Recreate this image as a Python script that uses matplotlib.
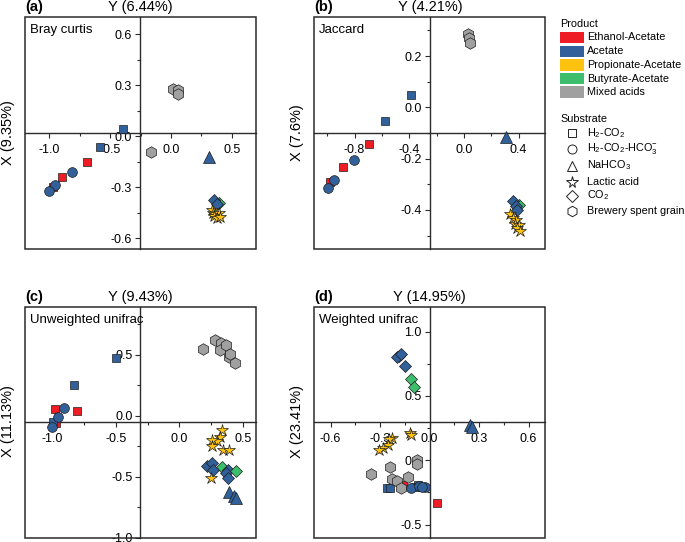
import matplotlib
matplotlib.use('Agg')
import matplotlib.pyplot as plt
from matplotlib.patches import Rectangle
from matplotlib.ticker import MultipleLocator, FuncFormatter

plt.rcParams['font.family'] = ['Liberation Sans', 'DejaVu Sans']
plt.rcParams['axes.unicode_minus'] = False
plt.rcParams['mathtext.fontset'] = 'custom'
plt.rcParams['mathtext.rm'] = 'Liberation Sans'
plt.rcParams['mathtext.it'] = 'Liberation Sans:italic'
plt.rcParams['mathtext.default'] = 'regular'

# ---------------- categories ----------------
product_keys = ['EA', 'AC', 'PA', 'BA', 'MA']
product_names = ['Ethanol-Acetate', 'Acetate', 'Propionate-Acetate', 'Butyrate-Acetate', 'Mixed acids']
substrate_keys = ['H2CO2', 'H2CO2HCO3', 'NaHCO3', 'LAC', 'CO2', 'BSG']
substrate_names = [r'H$_2$-CO$_2$', r'H$_2$-CO$_2$-HCO$_3^{-}$', r'NaHCO$_3$', 'Lactic acid',
                   r'CO$_2$', 'Brewery spent grain']

# ---------------- (a) Bray curtis ----------------
a_x = [-0.69, -0.89, -0.97, -0.39, -0.58, -0.81, -0.95, -1.00,
       0.02, 0.055, 0.06, -0.16, 0.31, 0.39, 0.355, 0.375,
       0.333, 0.345, 0.36, 0.39, 0.35, 0.375, 0.40]
a_y = [-0.149, -0.239, -0.30, 0.043, -0.061, -0.212, -0.288, -0.322,
       0.28, 0.27, 0.25, -0.09, -0.12, -0.39, -0.375, -0.40,
       -0.434, -0.45, -0.46, -0.45, -0.47, -0.48, -0.476]
a_prod = ['EA', 'EA', 'EA', 'AC', 'AC', 'AC', 'AC', 'AC',
          'MA', 'MA', 'MA', 'MA', 'AC', 'BA', 'AC', 'AC',
          'PA', 'PA', 'PA', 'PA', 'PA', 'PA', 'PA']
a_subs = ['H2CO2', 'H2CO2', 'H2CO2', 'H2CO2', 'H2CO2', 'H2CO2HCO3', 'H2CO2HCO3', 'H2CO2HCO3',
          'BSG', 'BSG', 'BSG', 'BSG', 'NaHCO3', 'CO2', 'CO2', 'CO2',
          'LAC', 'LAC', 'LAC', 'LAC', 'LAC', 'LAC', 'LAC']

# ---------------- (b) Jaccard ----------------
b_x = [-0.693, -0.883, -0.98, -0.39, -0.578, -0.805, -0.949, -0.997,
       0.027, 0.04, 0.044, 0.307, 0.405, 0.36, 0.38, 0.385,
       0.34, 0.36, 0.38, 0.37, 0.40, 0.39, 0.41]
b_y = [-0.142, -0.234, -0.29, 0.049, -0.055, -0.205, -0.283, -0.316,
       0.284, 0.27, 0.252, -0.115, -0.38, -0.365, -0.385, -0.40,
       -0.415, -0.43, -0.44, -0.455, -0.46, -0.472, -0.482]
b_prod = ['EA', 'EA', 'EA', 'AC', 'AC', 'AC', 'AC', 'AC',
          'MA', 'MA', 'MA', 'AC', 'BA', 'AC', 'AC', 'AC',
          'PA', 'PA', 'PA', 'PA', 'PA', 'PA', 'PA']
b_subs = ['H2CO2', 'H2CO2', 'H2CO2', 'H2CO2', 'H2CO2', 'H2CO2HCO3', 'H2CO2HCO3', 'H2CO2HCO3',
          'BSG', 'BSG', 'BSG', 'NaHCO3', 'CO2', 'CO2', 'CO2', 'CO2',
          'LAC', 'LAC', 'LAC', 'LAC', 'LAC', 'LAC', 'LAC']

# ---------------- (c) Unweighted unifrac ----------------
c_x = [-0.97, -1.00, -0.979, -0.81, -0.502, -0.834, -0.91, -0.955, -1.005,
       0.19, 0.28, 0.327, 0.32, 0.369, 0.392, 0.40, 0.44,
       0.216, 0.256, 0.335, 0.268, 0.387, 0.37, 0.445, 0.387,
       0.395, 0.43, 0.447,
       0.335, 0.32, 0.30, 0.26, 0.256, 0.347, 0.395, 0.248]
c_y = [-0.06, -0.05, 0.057, 0.043, 0.473, 0.254, 0.068, -0.011, -0.093,
       0.547, 0.623, 0.596, 0.54, 0.582, 0.481, 0.51, 0.432,
       -0.415, -0.388, -0.42, -0.443, -0.443, -0.47, -0.454, -0.51,
       -0.626, -0.66, -0.675,
       -0.115, -0.17, -0.21, -0.197, -0.246, -0.279, -0.279, -0.511]
c_prod = ['EA', 'AC', 'EA', 'EA', 'AC', 'AC', 'AC', 'AC', 'AC',
          'MA', 'MA', 'MA', 'MA', 'MA', 'MA', 'MA', 'MA',
          'AC', 'AC', 'BA', 'AC', 'AC', 'AC', 'BA', 'AC',
          'AC', 'AC', 'AC',
          'PA', 'PA', 'PA', 'PA', 'PA', 'PA', 'PA', 'PA']
c_subs = ['H2CO2', 'H2CO2', 'H2CO2', 'H2CO2', 'H2CO2', 'H2CO2', 'H2CO2HCO3', 'H2CO2HCO3', 'H2CO2HCO3',
          'BSG', 'BSG', 'BSG', 'BSG', 'BSG', 'BSG', 'BSG', 'BSG',
          'CO2', 'CO2', 'CO2', 'CO2', 'CO2', 'CO2', 'CO2', 'CO2',
          'NaHCO3', 'NaHCO3', 'NaHCO3',
          'LAC', 'LAC', 'LAC', 'LAC', 'LAC', 'LAC', 'LAC', 'LAC']

# ---------------- (d) Weighted unifrac ----------------
d_x = [-0.16, 0.045, -0.26, -0.24, -0.088, -0.07,
       -0.074, -0.078, -0.24, -0.355, -0.128, -0.23, -0.20, -0.175,
       -0.112, -0.062, -0.027, -0.045,
       -0.185, -0.2, -0.175, -0.148, -0.112, -0.094,
       0.245, 0.26,
       -0.118, -0.11, -0.23, -0.244, -0.25, -0.28, -0.304]
d_y = [-0.19, -0.334, -0.218, -0.218, -0.205, -0.19,
       0.002, -0.03, -0.054, -0.109, -0.132, -0.145, -0.16, -0.218,
       -0.218, -0.2, -0.205, -0.205,
       0.81, 0.805, 0.826, 0.733, 0.629, 0.567,
       0.274, 0.261,
       0.21, 0.195, 0.17, 0.163, 0.119, 0.093, 0.08]
d_prod = ['EA', 'EA', 'AC', 'AC', 'AC', 'AC',
          'MA', 'MA', 'MA', 'MA', 'MA', 'MA', 'MA', 'MA',
          'AC', 'AC', 'AC', 'AC',
          'AC', 'AC', 'AC', 'AC', 'BA', 'BA',
          'AC', 'AC',
          'PA', 'PA', 'PA', 'PA', 'PA', 'PA', 'PA']
d_subs = ['H2CO2', 'H2CO2', 'H2CO2', 'H2CO2', 'H2CO2', 'H2CO2',
          'BSG', 'BSG', 'BSG', 'BSG', 'BSG', 'BSG', 'BSG', 'BSG',
          'H2CO2HCO3', 'H2CO2HCO3', 'H2CO2HCO3', 'H2CO2HCO3',
          'CO2', 'CO2', 'CO2', 'CO2', 'CO2', 'CO2',
          'NaHCO3', 'NaHCO3',
          'LAC', 'LAC', 'LAC', 'LAC', 'LAC', 'LAC', 'LAC']

panel_letters = ['(a)', '(b)', '(c)', '(d)']
panel_names = ['Bray curtis', 'Jaccard', 'Unweighted unifrac', 'Weighted unifrac']
x_titles = ['Y (6.44%)', 'Y (4.21%)', 'Y (9.43%)', 'Y (14.95%)']
y_titles = ['X (9.35%)', 'X (7.6%)', 'X (11.13%)', 'X (23.41%)']

# ---------------- styles ----------------
product_colors = {'EA': '#EE1C24', 'AC': '#31609A', 'PA': '#FFC20E', 'BA': '#3CBE6C', 'MA': '#A0A0A0'}
substrate_markers = {'H2CO2': 's', 'H2CO2HCO3': 'o', 'NaHCO3': '^', 'LAC': '*', 'CO2': 'D', 'BSG': 'h'}
marker_sizes = {'s': 6.0, 'o': 7.0, '^': 8.5, '*': 9.0, 'D': 6.5, 'h': 8.3}
EDGE = '#1e1e1e'
AXC = '#2b2b2b'

W, H = 685, 542
fig = plt.figure(figsize=(W / 100, H / 100), dpi=100)

# pixel boxes (left, top, right, bottom) and axis setup
layout = [
    dict(box=(25, 17, 256, 249), xlim=(-1.197, 0.697), ylim=(-0.663, 0.702), vx=-0.254, hy=0.02, xm=0.5, ym=0.3, lab=8.5),
    dict(box=(314, 17, 545, 249), xlim=(-1.097, 0.593), ylim=(-0.552, 0.352), vx=-0.249, hy=-0.10, xm=0.4, ym=0.2, lab=296.5),
    dict(box=(25, 307, 256, 538), xlim=(-1.218, 0.605), ylim=(-1.003, 0.893), vx=-0.308, hy=-0.047, xm=0.5, ym=0.5, lab=8.5),
    dict(box=(314, 307, 545, 538), xlim=(-0.70, 0.70), ylim=(-0.604, 1.191), vx=0.0, hy=0.30, xm=0.3, ym=0.5, lab=296.5),
]
data = [(a_x, a_y, a_prod, a_subs), (b_x, b_y, b_prod, b_subs),
        (c_x, c_y, c_prod, c_subs), (d_x, d_y, d_prod, d_subs)]

fmt = FuncFormatter(lambda v, p: f'{round(v, 2) + 0.0:.1f}')

for i, (L, (xs, ys, ps, ss)) in enumerate(zip(layout, data)):
    l, t, r, b = L['box']
    ax = fig.add_axes([l / W, 1 - b / H, (r - l) / W, (b - t) / H])
    ax.set_xlim(*L['xlim'])
    ax.set_ylim(*L['ylim'])
    ax.spines['top'].set_visible(False)
    ax.spines['right'].set_visible(False)
    ax.spines['left'].set_position(('data', L['vx']))
    ax.spines['bottom'].set_position(('data', L['hy']))
    for s in ('left', 'bottom'):
        ax.spines[s].set_color(AXC)
        ax.spines[s].set_linewidth(1.0)
    ax.add_patch(Rectangle((0, 0), 1, 1, transform=ax.transAxes, fill=False,
                           ec=AXC, lw=1.1, clip_on=False, zorder=2.6))
    ax.xaxis.set_major_locator(MultipleLocator(L['xm']))
    ax.xaxis.set_minor_locator(MultipleLocator(L['xm'] / 2))
    ax.yaxis.set_major_locator(MultipleLocator(L['ym']))
    ax.yaxis.set_minor_locator(MultipleLocator(L['ym'] / 2))
    ax.xaxis.set_major_formatter(fmt)
    ax.yaxis.set_major_formatter(fmt)
    ax.tick_params(which='major', direction='out', length=3.6, width=0.8, color=AXC, labelsize=9)
    ax.tick_params(which='minor', direction='out', length=2.0, width=0.8, color=AXC)
    ax.tick_params(axis='x', which='major', pad=4.5)
    ax.tick_params(axis='y', which='major', pad=2.0)
    ax.patch.set_alpha(0)

    for x, y, p, s in zip(xs, ys, ps, ss):
        m = substrate_markers[s]
        ax.plot([x], [y], ls='none', marker=m, ms=marker_sizes[m],
                mfc=product_colors[p], mec=EDGE, mew=0.5, zorder=3, clip_on=False)

    ax.annotate(x_titles[i], xy=(L['vx'], 1), xycoords=('data', 'axes fraction'),
                xytext=(0, 7.2), textcoords='offset points', ha='center', va='center',
                fontsize=10.5, annotation_clip=False)
    ax.annotate(y_titles[i], xy=(0, L['hy']), xycoords=('axes fraction', 'data'),
                xytext=(-(l - L['lab']) * 0.72, 0), textcoords='offset points',
                rotation=90, ha='center', va='center', fontsize=10.5, annotation_clip=False)
    fig.text(l / W, 1 - (t - 10) / H, panel_letters[i], fontsize=10.5, fontweight='bold',
             ha='left', va='center')
    ax.text(5 / (r - l), 1 - 13 / (b - t), panel_names[i], transform=ax.transAxes,
            ha='left', va='center', fontsize=9.5, zorder=4)

# ---------------- legend (pixel overlay) ----------------
lax = fig.add_axes([0, 0, 1, 1])
lax.set_xlim(0, W)
lax.set_ylim(H, 0)
lax.axis('off')
LF = 7.8
lax.text(560, 24, 'Product', fontsize=LF, ha='left', va='center')
prod_rows = [37.5, 51.3, 65.0, 78.5, 92.0]
for k, yy in zip(product_keys, prod_rows):
    lax.add_patch(Rectangle((560, yy - 5.8), 24, 11.6, fc=product_colors[k], ec='none'))
for name, yy in zip(product_names, prod_rows):
    lax.text(587, yy, name, fontsize=LF, ha='left', va='center')
lax.text(560, 119, 'Substrate', fontsize=LF, ha='left', va='center')
subs_rows = [133.0, 148.5, 165.5, 182.0, 195.5, 211.0]
legend_ms = {'s': 6.0, 'o': 6.5, '^': 7.5, '*': 8.5, 'D': 6.0, 'h': 7.5}
for k, name, yy in zip(substrate_keys, substrate_names, subs_rows):
    m = substrate_markers[k]
    lax.plot([572], [yy], ls='none', marker=m, ms=legend_ms[m], mfc='white',
             mec='#222222', mew=0.7)
    lax.text(587, yy, name, fontsize=LF, ha='left', va='center')

fig.savefig('out.png', dpi=100)
